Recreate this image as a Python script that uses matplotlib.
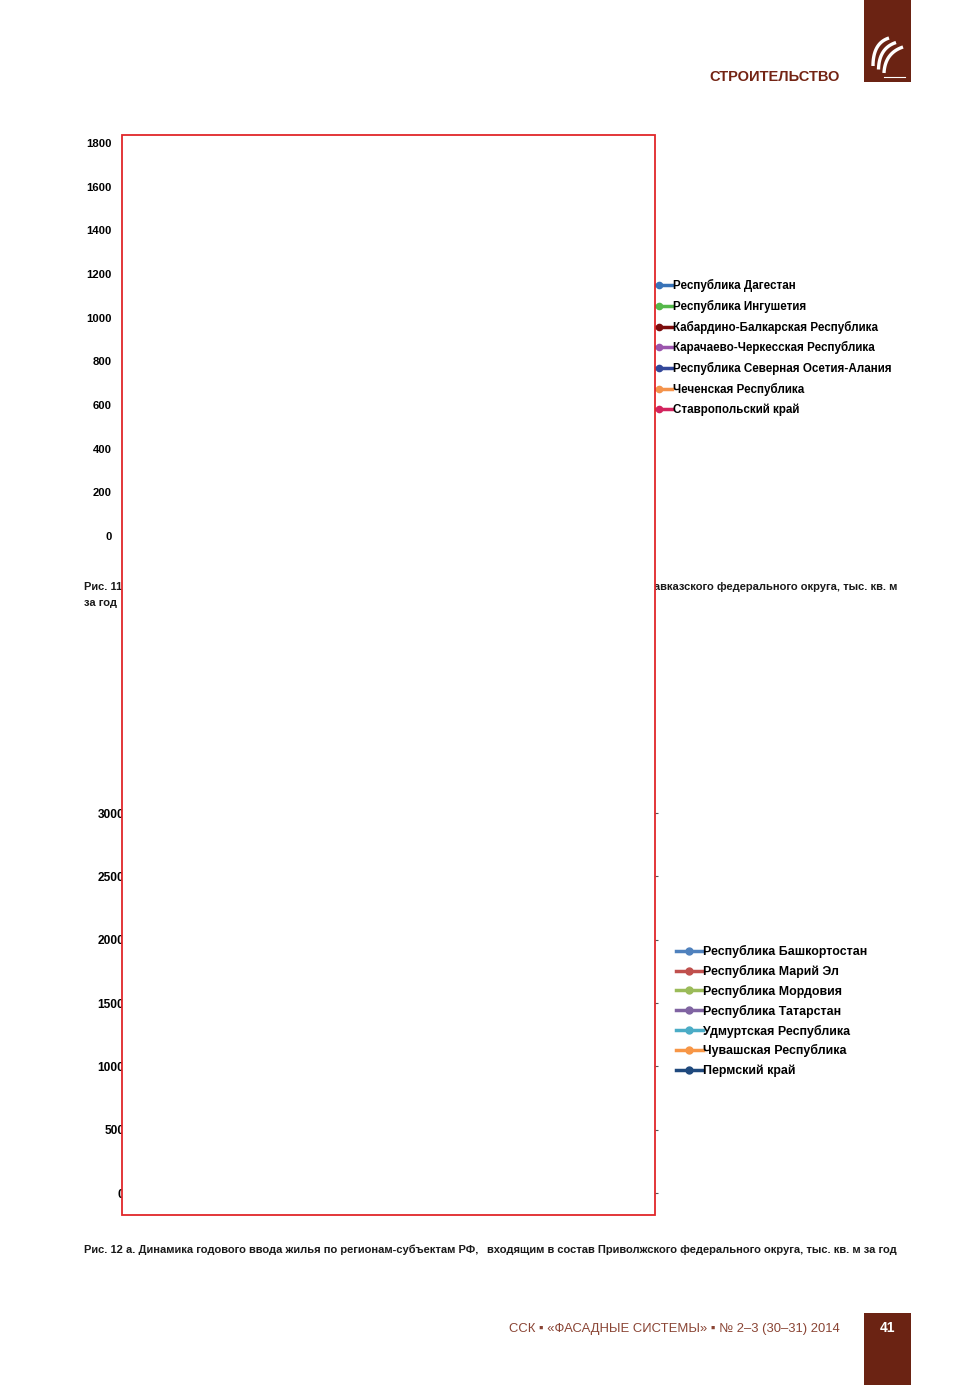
import matplotlib
matplotlib.use("Agg")
import matplotlib.pyplot as plt
from matplotlib.patches import Rectangle
import numpy as np

# ---------------- data ----------------
ticks_top = [0, 200, 400, 600, 800, 1000, 1200, 1400, 1600, 1800]
regions_top = ["Республика Дагестан", "Республика Ингушетия",
               "Кабардино-Балкарская Республика", "Карачаево-Черкесская Республика",
               "Республика Северная Осетия-Алания", "Чеченская Республика",
               "Ставропольский край"]
colors_top = ["#3873b8", "#55b84a", "#7d0d0d", "#9b55ad", "#33489a", "#f4934b", "#d3245e"]

ticks_bot = [0, 500, 1000, 1500, 2000, 2500, 3000]
regions_bot = ["Республика Башкортостан", "Республика Марий Эл", "Республика Мордовия",
               "Республика Татарстан", "Удмуртская Республика", "Чувашская Республика",
               "Пермский край"]
colors_bot = ["#4f81bd", "#c0504d", "#9bbb59", "#8064a2", "#4bacc6", "#f79646", "#1f497d"]

header = "СТРОИТЕЛЬСТВО"
caption1_a = "Рис. 11 а. Динамика годового ввода жилья по регионам-субъектам РФ,"
caption1_b = "входящим в состав Северо-Кавказского федерального округа, тыс. кв. м"
caption1_c = "за год"
caption2_a = "Рис. 12 а. Динамика годового ввода жилья по регионам-субъектам РФ,"
caption2_b = "входящим в состав Приволжского федерального округа, тыс. кв. м за год"
footer = "ССК ▪ «ФАСАДНЫЕ СИСТЕМЫ» ▪ № 2–3 (30–31) 2014"
page_no = "41"

# ---------------- helpers ----------------
W, H = 980, 1385
fig = plt.figure(figsize=(W / 100, H / 100), dpi=100)
fig.patch.set_facecolor("white")

def fx(x):
    return x / W

def fy(y):
    return 1 - y / H

BROWN = "#6b2313"
SANS = ["Liberation Sans", "DejaVu Sans"]
NARROW = ["Liberation Sans Narrow", "DejaVu Sans Condensed", "Liberation Sans", "DejaVu Sans"]

# ---------------- upper chart ----------------
ax1 = fig.add_axes([fx(118), fy(536), (640 - 118) / W, (536 - 143) / H])
ax1.set_ylim(0, 1800)
ax1.set_yticks(ticks_top)
ax1.set_yticklabels([str(t) for t in ticks_top], fontsize=8.1, fontweight="bold",
                    family=SANS)
ax1.tick_params(axis="y", length=0, pad=4.3)
ax1.set_xticks([])
for s in ax1.spines.values():
    s.set_visible(False)
for name, c in zip(regions_top, colors_top):
    ax1.plot([], [], color=c, lw=2.5, marker="o", ms=4.5, label=name)
leg1 = ax1.legend(loc="upper left", bbox_to_anchor=(fx(645), fy(279)),
                  bbox_transform=fig.transFigure, frameon=False,
                  prop={"family": SANS, "weight": "bold", "size": 8.4},
                  handlelength=2.35, handletextpad=0.05, labelspacing=0.665,
                  borderpad=0, borderaxespad=0)

# ---------------- lower chart ----------------
ax2 = fig.add_axes([fx(130), fy(1193), (655 - 130) / W, (1193 - 813) / H])
ax2.set_ylim(0, 3000)
ax2.set_yticks(ticks_bot)
ax2.set_yticklabels([str(t) for t in ticks_bot], fontsize=8.6, fontweight="bold",
                    family=SANS)
ax2.tick_params(axis="y", length=2.5, pad=1.5, right=True, color="#555555", width=0.8)
ax2.set_xticks([])
for s in ax2.spines.values():
    s.set_visible(False)
for name, c in zip(regions_bot, colors_bot):
    ax2.plot([], [], color=c, lw=2.5, marker="o", ms=5, label=name)
leg2 = ax2.legend(loc="upper left", bbox_to_anchor=(fx(676), fy(945)),
                  bbox_transform=fig.transFigure, frameon=False,
                  prop={"family": SANS, "weight": "bold", "size": 8.9},
                  handlelength=2.15, handletextpad=0.05, labelspacing=0.555,
                  borderpad=0, borderaxespad=0)

# ---------------- captions (justified: left half + right half) ----------------
probe = fig.text(fx(84), fy(1250), caption2_a + " " + caption2_b, ha="left", va="center",
                 family=NARROW, fontweight="bold", fontsize=8.5, color="#1a1a1a")
fs = 8.5
for _ in range(3):
    fig.canvas.draw()
    r = fig.canvas.get_renderer()
    w = probe.get_window_extent(r).width
    fs = fs * 805.0 / w
    probe.set_fontsize(fs)
probe.remove()

capkw = dict(family=NARROW, fontweight="bold", fontsize=fs, color="#1a1a1a", va="center")
fig.text(fx(84), fy(1250), caption2_a, ha="left", **capkw)
fig.text(fx(897), fy(1250), caption2_b, ha="right", **capkw)
fig.text(fx(84), fy(587), caption1_a, ha="left", **capkw)
fig.text(fx(897), fy(587), caption1_b, ha="right", **capkw)
fig.text(fx(84), fy(603), caption1_c, ha="left", **capkw)

# ---------------- page decoration ----------------
fig.add_artist(Rectangle((fx(864), fy(82)), 47 / W, 82 / H, transform=fig.transFigure,
                         facecolor=BROWN, edgecolor="none", zorder=1))
fig.add_artist(Rectangle((fx(864), fy(1385)), 47 / W, 72 / H, transform=fig.transFigure,
                         facecolor=BROWN, edgecolor="none", zorder=1))
fig.text(fx(887), fy(1328), page_no, ha="center", va="center", color="white",
         fontweight="bold", fontsize=10, family=SANS, zorder=2)
fig.text(fx(840), fy(77), header, ha="right", va="center", color="#742414",
         fontweight="bold", fontsize=10.5, family=SANS)
fig.text(fx(840), fy(1329), footer, ha="right", va="center", color="#8a4434",
         fontsize=9.4, family=SANS)

# logo: three white strokes inside the top brown box
lax = fig.add_axes([fx(864), fy(82), 47 / W, 82 / H], zorder=3)
lax.set_xlim(864, 911)
lax.set_ylim(82, 0)
lax.axis("off")
tt = np.linspace(0, 1, 40)
for i in range(3):
    p0 = np.array([889 + i * 7, 38 + i * 4.5])
    p1 = np.array([873 + i * 6, 43 + i * 5])
    p2 = np.array([873 + i * 5.5, 66 + i * 3.5])
    pts = ((1 - tt) ** 2)[:, None] * p0 + (2 * (1 - tt) * tt)[:, None] * p1 + (tt ** 2)[:, None] * p2
    lax.plot(pts[:, 0], pts[:, 1], color="white", lw=2.4, solid_capstyle="butt")
lax.plot([884, 905], [77, 77], color="white", lw=0.8)

# ---------------- white box with red border ----------------
fig.add_artist(Rectangle((fx(122), fy(1215)), (655 - 122) / W, (1215 - 135) / H,
                         transform=fig.transFigure, facecolor="white",
                         edgecolor="#e0262a", lw=1.3, zorder=10))

fig.savefig("out.png", dpi=100, facecolor="white")
